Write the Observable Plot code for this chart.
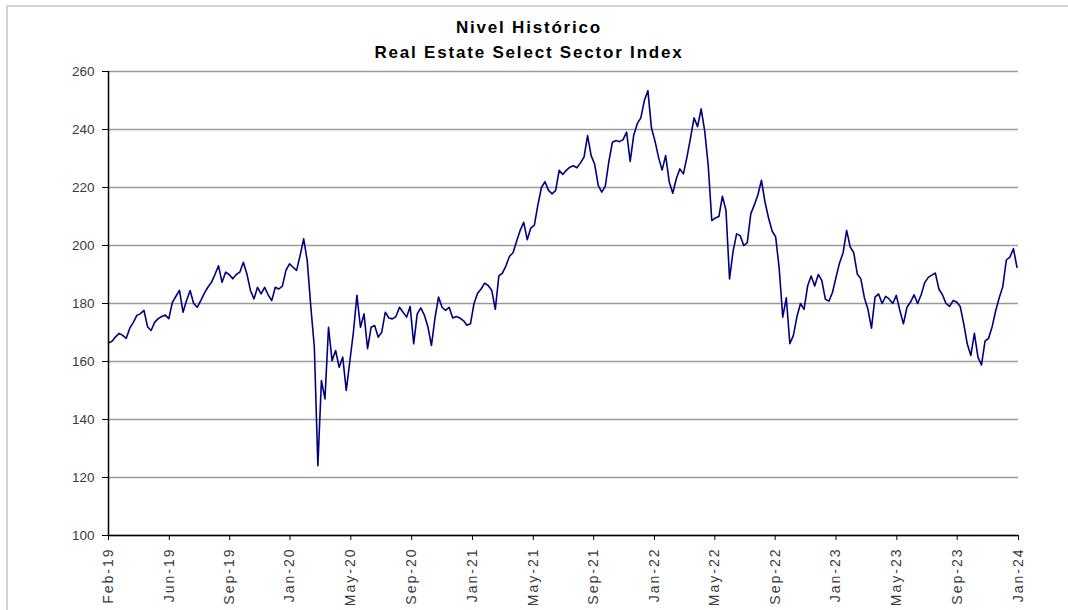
<!DOCTYPE html>
<html><head><meta charset="utf-8">
<script src="https://cdn.jsdelivr.net/npm/d3@7"></script>
<script src="https://cdn.jsdelivr.net/npm/@observablehq/plot@0.6"></script>
<style>
body{margin:0;background:#fff;font-family:"Liberation Sans",Arial,sans-serif;}
#frame{position:absolute;left:6px;top:5px;width:1062px;height:605px;border-top:2px solid #d4d4d4;border-left:2px solid #d4d4d4;}
#title{position:absolute;left:0;top:15px;width:1058px;text-align:center;font-weight:bold;font-size:17px;line-height:25px;color:#000;letter-spacing:1.8px}
#chart{position:absolute;left:0;top:62px}
</style></head>
<body>
<div id="frame"></div>
<div id="title">Nivel Histórico<br>Real Estate Select Sector Index</div>
<div id="chart"></div>
<script>
const startDate = "2019-02-01";
const endDate = "2024-01-01";
// weekly readings of the index level
const weeklyValues = [
166.5,167,168.5,169.7,169,168,171.5,173.5,175.9,176.5,
177.6,172,170.7,173.5,174.8,175.5,176,174.8,180.4,182.5,
184.5,177,181,184.5,180,178.7,181,183.5,185.6,187.3,
190,193,187.3,190.8,190,188.5,190,190.8,194.2,190.2,
184.5,181.6,185.6,183.3,185.6,183,181,185.6,185,186,
191.4,193.7,192.5,191.4,196.6,202.3,194.8,179,165,124.1,
153.4,147.1,171.8,160.3,163.8,158,161.5,150,160,170,
182.8,171.8,176.4,164.4,171.8,172.4,168.4,170.1,177,175,
174.7,175.5,178.7,177,175.3,179,166.1,176.4,178.5,176,
172,165.5,175,182.2,178.7,177.6,178.7,175,175.5,175,
174.1,172.5,173,180,183.5,185,187,186.2,184.5,178,
189.5,190.5,193,196.3,197.5,201.5,205.2,208,202,206,
207,214,220,222,219,217.8,219,225.9,224.5,225.9,
227,227.5,226.8,228.5,230.5,237.9,231,228,220.7,218.4,
220.5,229,235.6,236.2,235.8,236.5,239.1,229,238,242,
244,250,253.4,240.5,236,230.4,226,231,222,218,
223,226.4,224.7,230.5,237,244,241,247.1,239.5,227.5,
208.6,209.5,210,217,212.1,188.5,198,204,203.4,200,
201,211,214,217.5,222.5,214.9,209.5,205,203,192,
175.3,182,166.1,169,175.5,180,178,186,189.5,186,
190,188,181.5,180.8,183.8,189,194,197.5,205.2,199.5,
197.5,190.2,188.5,182,178,171.5,182.2,183.3,180,182.5,
181.5,180,182.8,177.6,173,178.7,180.5,183,180,183,
187.2,189,189.8,190.5,185,183,180,179,181,180.5,
179,173,166,162.1,169.7,161.5,158.8,167,168,172,
177.5,182,185.8,195,196,198.9,192.5
];
const tickDates = ["2019-02-01","2019-06-01","2019-09-28","2020-01-25","2020-05-24","2020-09-21",
  "2021-01-19","2021-05-19","2021-09-15","2022-01-13","2022-05-12","2022-09-08",
  "2023-01-06","2023-05-06","2023-09-02","2024-01-01"];
const tickLabels = ["Feb-19","Jun-19","Sep-19","Jan-20","May-20","Sep-20","Jan-21","May-21",
  "Sep-21","Jan-22","May-22","Sep-22","Jan-23","May-23","Sep-23","Jan-24"];
const yTicks = [100,120,140,160,180,200,220,240,260];

const t0 = new Date(startDate);
const data = weeklyValues.map((v, i) => ({date: d3.utcDay.offset(t0, 7 * i), value: v}));
const xTicks = tickDates.map(d => new Date(d));
const labelOf = new Map(xTicks.map((d, i) => [+d, tickLabels[i]]));

const chart = Plot.plot({
  width: 1068, height: 548,
  marginLeft: 108, marginRight: 50, marginTop: 9, marginBottom: 75,
  style: {fontFamily: "'Liberation Sans', Arial, sans-serif", fontSize: "13px", background: "transparent"},
  x: {type: "utc", domain: [t0, new Date(endDate)]},
  y: {domain: [100, 260]},
  marks: [
    Plot.gridY(yTicks, {stroke: "#9a9a9a", strokeOpacity: 1, strokeWidth: 1.6}),
    Plot.line(data, {x: "date", y: "value", stroke: "#00007f", strokeWidth: 1.6}),
    Plot.ruleY([100], {stroke: "#000", strokeWidth: 1.5}),
    Plot.ruleX([t0], {stroke: "#000", strokeWidth: 1.5}),
    Plot.axisY(yTicks, {tickSize: 6, tickPadding: 8, fontSize: 13.5, color: "#3a3a3a", stroke: "#000", label: null}),
    Plot.axisX(xTicks, {tickSize: 5, tickPadding: 7, tickRotate: -90, fontSize: 14, color: "#3a3a3a", stroke: "#000",
      tickFormat: d => labelOf.get(+d), label: null})
  ]
});
document.getElementById("chart").appendChild(chart);
d3.select(chart).selectAll('[aria-label="x-axis tick label"] text').attr("letter-spacing", "2px");
</script>
</body></html>
